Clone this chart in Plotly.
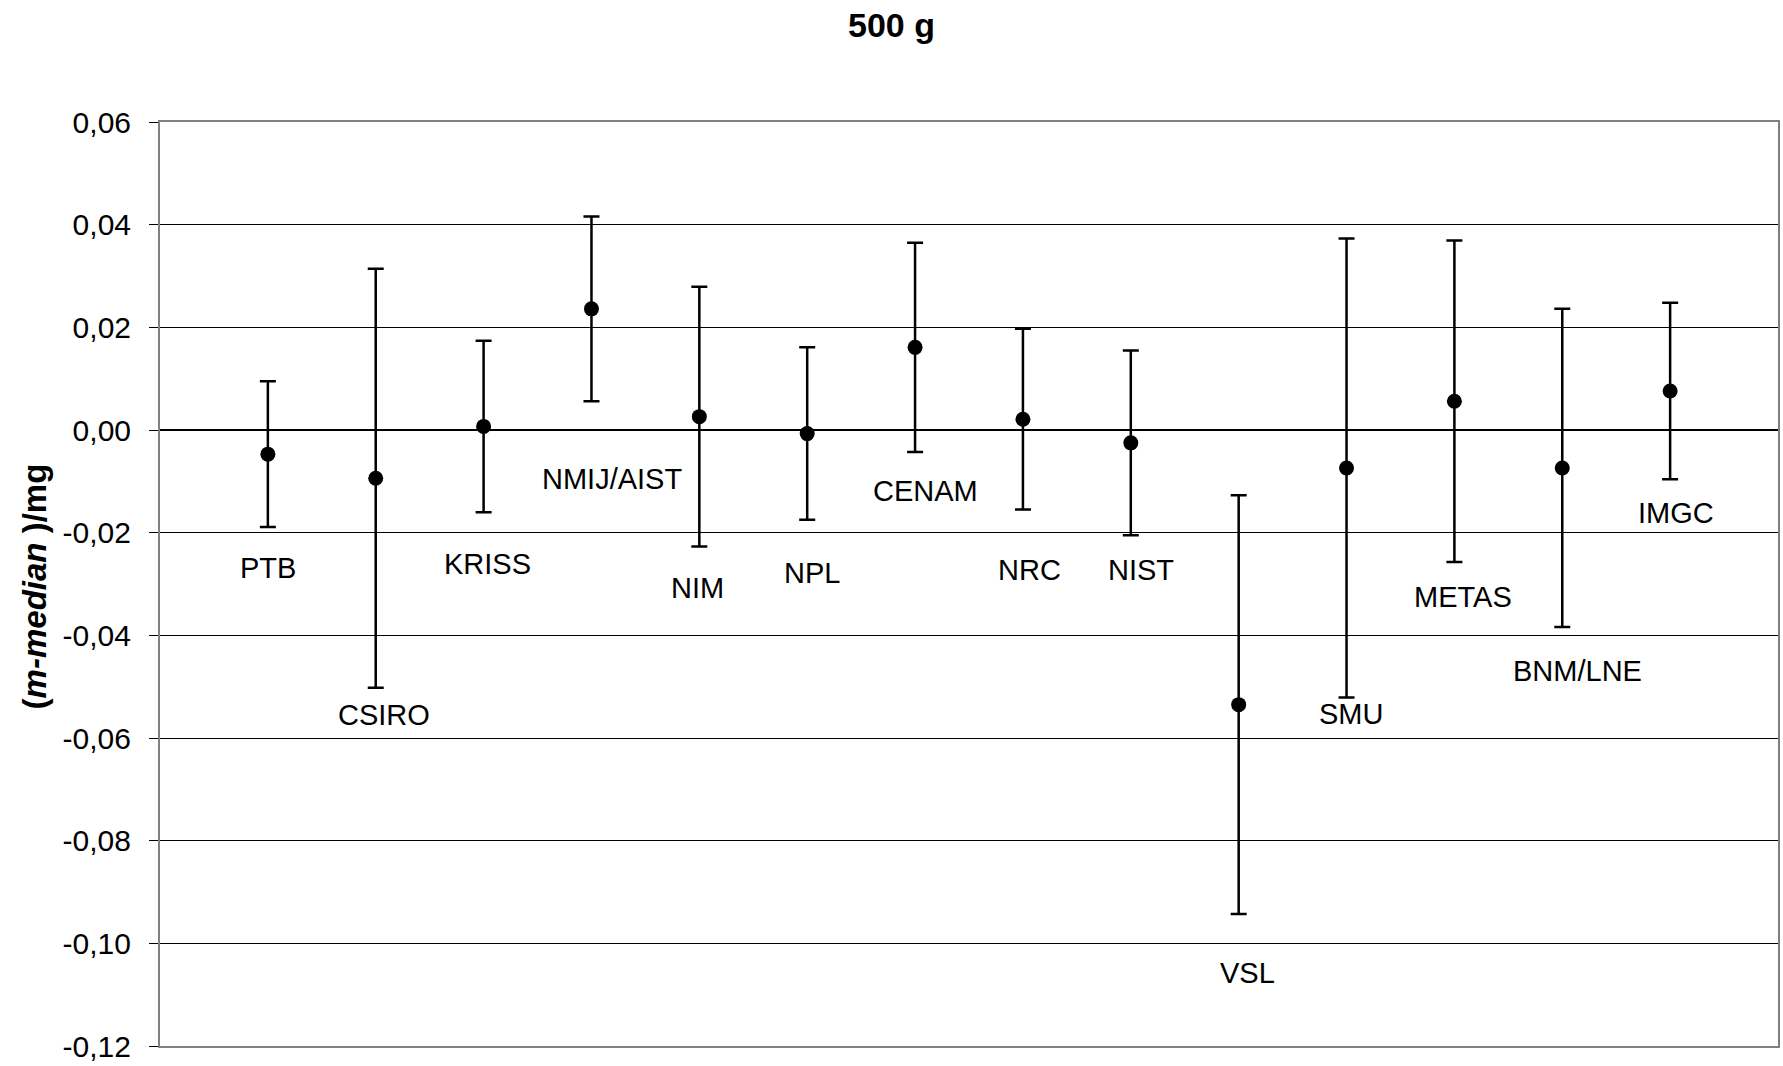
import plotly.graph_objects as go

# --- data ---
labs = ["PTB", "CSIRO", "KRISS", "NMIJ/AIST", "NIM", "NPL", "CENAM", "NRC",
        "NIST", "VSL", "SMU", "METAS", "BNM/LNE", "IMGC"]
positions = list(range(1, 15))
values = [-0.0047, -0.0094, 0.0007, 0.0236, 0.0026, -0.0007, 0.0161, 0.0021,
          -0.0025, -0.0535, -0.0074, 0.0056, -0.0074, 0.0076]
uncert = [0.0142, 0.0408, 0.0167, 0.0180, 0.0253, 0.0168, 0.0204, 0.0176,
          0.0180, 0.0408, 0.0447, 0.0313, 0.0310, 0.0172]

tick_vals = [0.06, 0.04, 0.02, 0.00, -0.02, -0.04, -0.06, -0.08, -0.10, -0.12]
tick_text = ["0,06", "0,04", "0,02", "0,00", "-0,02", "-0,04", "-0,06",
             "-0,08", "-0,10", "-0,12"]

# label placement (data coordinates)
label_x = [1.0, 2.08, 3.04, 4.19, 4.98, 6.04, 7.10, 8.06, 9.09, 10.08, 11.04,
           12.08, 13.14, 14.05]
label_y = [-0.0268, -0.0555, -0.0262, -0.0095, -0.0307, -0.0278, -0.0118,
           -0.0272, -0.0272, -0.1058, -0.0553, -0.0326, -0.0470, -0.0161]

FONT = "Liberation Sans, Arial, sans-serif"

fig = go.Figure()
fig.add_trace(go.Scatter(
    x=positions, y=values, mode="markers",
    marker=dict(color="black", size=15, symbol="circle"),
    error_y=dict(type="data", array=uncert, visible=True, color="black",
                 thickness=2.5, width=8),
    showlegend=False, hoverinfo="skip",
))

for lx, ly, t in zip(label_x, label_y, labs):
    fig.add_annotation(x=lx, y=ly, xref="x", yref="y", text=t, showarrow=False,
                       font=dict(family=FONT, size=29, color="black"),
                       xanchor="center", yanchor="middle")

fig.add_annotation(xref="paper", yref="paper", x=-0.0775, y=0.497,
                   text="<b>(<i>m-median</i> )/mg</b>", textangle=-90,
                   showarrow=False, xanchor="center", yanchor="middle",
                   font=dict(family=FONT, size=33, color="black"))

fig.update_layout(
    width=1783, height=1066,
    margin=dict(l=160, r=3, t=122, b=17),
    paper_bgcolor="white", plot_bgcolor="white",
    font=dict(family=FONT, size=29, color="black"),
    title=dict(text="<b>500 g</b>", x=0.5, xref="container", xanchor="center",
               y=1 - 25 / 1066, yref="container", yanchor="middle",
               font=dict(family=FONT, size=34, color="black")),
    xaxis=dict(range=[0, 15], showgrid=False, zeroline=False,
               showticklabels=False, ticks="", showline=True,
               linecolor="#808080", linewidth=2, mirror=True),
    yaxis=dict(range=[-0.12, 0.06], tickvals=tick_vals, ticktext=tick_text,
               showgrid=True, gridcolor="black", gridwidth=1,
               zeroline=True, zerolinecolor="black", zerolinewidth=2,
               ticks="outside", ticklen=9, tickcolor="black", tickwidth=1,
               ticklabelstandoff=12,
               showline=True, linecolor="#808080", linewidth=2, mirror=True,
               tickfont=dict(family=FONT, size=30, color="black")),
)

fig.write_html("out.html")
